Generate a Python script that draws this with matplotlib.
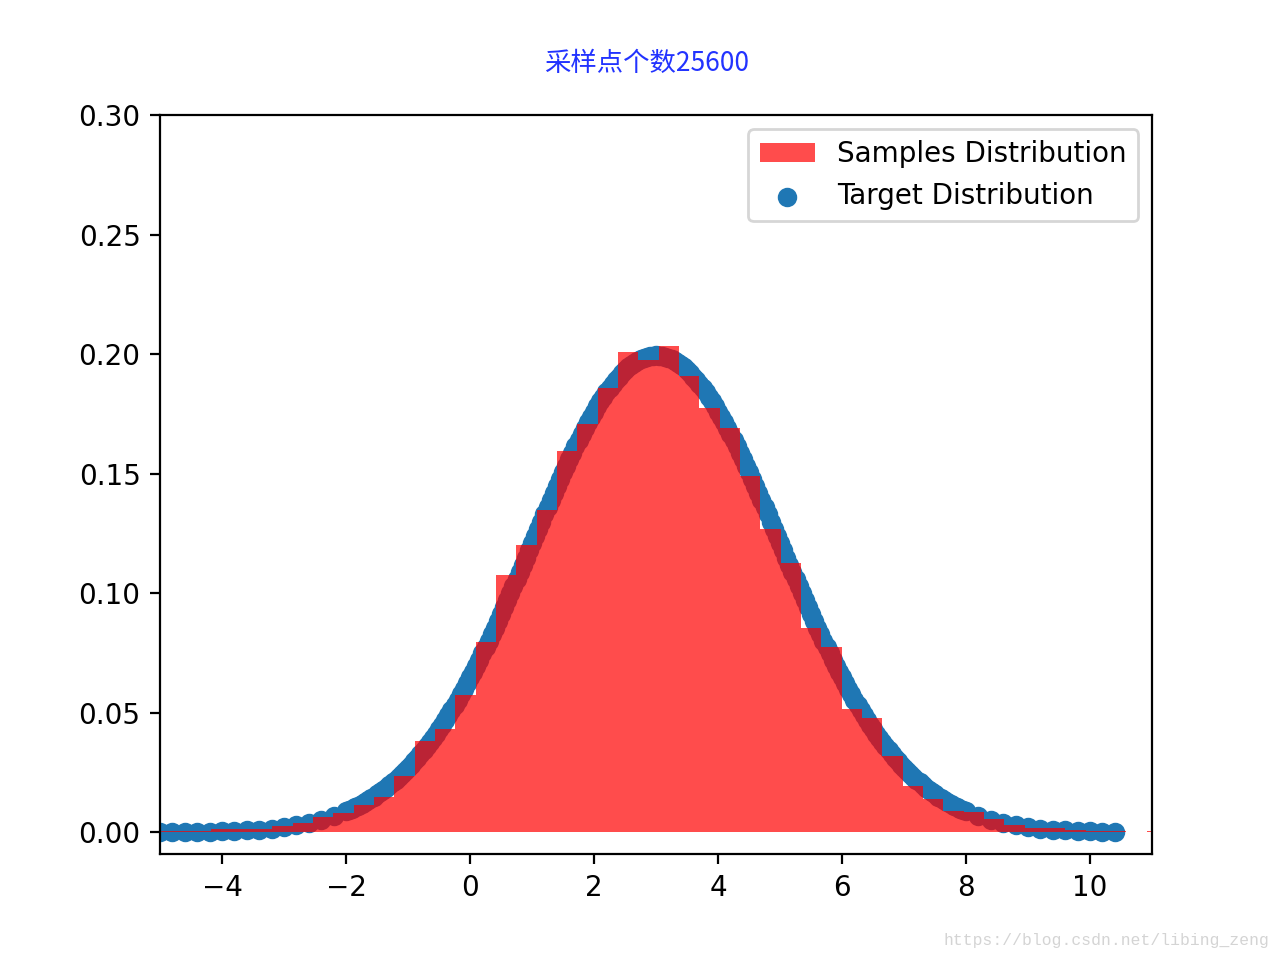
import numpy as np
import matplotlib
matplotlib.use("Agg")
import matplotlib.pyplot as plt

# 采样结果的直方图 (density), 50 bins
hist_left = -5.157
bin_width = 0.328
bin_heights = [
    0.0004, 0.0004, 0.0005, 0.0014, 0.0014, 0.0016, 0.0025, 0.0038, 0.0066, 0.0080,
    0.0113, 0.0148, 0.0235, 0.0381, 0.0433, 0.0575, 0.0796, 0.1077, 0.1202, 0.1349,
    0.1596, 0.1708, 0.1859, 0.2011, 0.1976, 0.2033, 0.1910, 0.1775, 0.1691, 0.1489,
    0.1271, 0.1127, 0.0855, 0.0775, 0.0517, 0.0478, 0.0318, 0.0193, 0.0141, 0.0088,
    0.0084, 0.0056, 0.0032, 0.0018, 0.0018, 0.0008, 0.0006, 0.0006, 0.0, 0.0005,
]

# 目标分布上的点
target_x = [
    -5.0, -4.8, -4.6, -4.4, -4.2, -4.0, -3.8, -3.6, -3.4, -3.2, -3.0, -2.8, -2.6, -2.4, -2.2,
    -2.00, -1.95, -1.90, -1.85, -1.80, -1.75, -1.70, -1.65, -1.60, -1.55,
    -1.50, -1.45, -1.40, -1.35, -1.30, -1.25, -1.20, -1.15, -1.10, -1.05,
    -1.00, -0.95, -0.90, -0.85, -0.80, -0.75, -0.70, -0.65, -0.60, -0.55,
    -0.50, -0.45, -0.40, -0.35, -0.30, -0.25, -0.20, -0.15, -0.10, -0.05,
    0.00, 0.05, 0.10, 0.15, 0.20, 0.25, 0.30, 0.35, 0.40, 0.45,
    0.50, 0.55, 0.60, 0.65, 0.70, 0.75, 0.80, 0.85, 0.90, 0.95,
    1.00, 1.05, 1.10, 1.15, 1.20, 1.25, 1.30, 1.35, 1.40, 1.45,
    1.50, 1.55, 1.60, 1.65, 1.70, 1.75, 1.80, 1.85, 1.90, 1.95,
    2.00, 2.05, 2.10, 2.15, 2.20, 2.25, 2.30, 2.35, 2.40, 2.45,
    2.50, 2.55, 2.60, 2.65, 2.70, 2.75, 2.80, 2.85, 2.90, 2.95,
    3.00, 3.05, 3.10, 3.15, 3.20, 3.25, 3.30, 3.35, 3.40, 3.45,
    3.50, 3.55, 3.60, 3.65, 3.70, 3.75, 3.80, 3.85, 3.90, 3.95,
    4.00, 4.05, 4.10, 4.15, 4.20, 4.25, 4.30, 4.35, 4.40, 4.45,
    4.50, 4.55, 4.60, 4.65, 4.70, 4.75, 4.80, 4.85, 4.90, 4.95,
    5.00, 5.05, 5.10, 5.15, 5.20, 5.25, 5.30, 5.35, 5.40, 5.45,
    5.50, 5.55, 5.60, 5.65, 5.70, 5.75, 5.80, 5.85, 5.90, 5.95,
    6.00, 6.05, 6.10, 6.15, 6.20, 6.25, 6.30, 6.35, 6.40, 6.45,
    6.50, 6.55, 6.60, 6.65, 6.70, 6.75, 6.80, 6.85, 6.90, 6.95,
    7.00, 7.05, 7.10, 7.15, 7.20, 7.25, 7.30, 7.35, 7.40, 7.45,
    7.50, 7.55, 7.60, 7.65, 7.70, 7.75, 7.80, 7.85, 7.90, 7.95,
    8.00,
    8.2, 8.4, 8.6, 8.8, 9.0, 9.2, 9.4, 9.6, 9.8, 10.0, 10.2, 10.4,
]
target_y = [
    0.0001, 0.0001, 0.0002, 0.0002, 0.0003, 0.0004, 0.0006, 0.0009, 0.0012, 0.0016,
    0.0022, 0.0030, 0.0040, 0.0052, 0.0068,
    0.0088, 0.0093, 0.0099, 0.0105, 0.0112, 0.0119, 0.0126, 0.0134, 0.0142, 0.0150,
    0.0159, 0.0168, 0.0177, 0.0187, 0.0198, 0.0209, 0.0220, 0.0232, 0.0244, 0.0257,
    0.0270, 0.0284, 0.0298, 0.0313, 0.0328, 0.0344, 0.0360, 0.0377, 0.0395, 0.0413,
    0.0431, 0.0451, 0.0470, 0.0491, 0.0511, 0.0533, 0.0555, 0.0577, 0.0600, 0.0624,
    0.0648, 0.0672, 0.0697, 0.0723, 0.0749, 0.0775, 0.0802, 0.0829, 0.0857, 0.0885,
    0.0913, 0.0942, 0.0971, 0.1000, 0.1030, 0.1059, 0.1089, 0.1119, 0.1149, 0.1180,
    0.1210, 0.1240, 0.1270, 0.1300, 0.1330, 0.1360, 0.1390, 0.1419, 0.1449, 0.1477,
    0.1506, 0.1534, 0.1561, 0.1588, 0.1615, 0.1641, 0.1666, 0.1691, 0.1715, 0.1738,
    0.1760, 0.1782, 0.1803, 0.1823, 0.1841, 0.1859, 0.1876, 0.1892, 0.1907, 0.1921,
    0.1933, 0.1945, 0.1955, 0.1964, 0.1972, 0.1979, 0.1985, 0.1989, 0.1992, 0.1994,
    0.1995, 0.1994, 0.1992, 0.1989, 0.1985, 0.1979, 0.1972, 0.1964, 0.1955, 0.1945,
    0.1933, 0.1921, 0.1907, 0.1892, 0.1876, 0.1859, 0.1841, 0.1823, 0.1803, 0.1782,
    0.1760, 0.1738, 0.1715, 0.1691, 0.1666, 0.1641, 0.1615, 0.1588, 0.1561, 0.1534,
    0.1506, 0.1477, 0.1449, 0.1419, 0.1390, 0.1360, 0.1330, 0.1300, 0.1270, 0.1240,
    0.1210, 0.1180, 0.1149, 0.1119, 0.1089, 0.1059, 0.1030, 0.1000, 0.0971, 0.0942,
    0.0913, 0.0885, 0.0857, 0.0829, 0.0802, 0.0775, 0.0749, 0.0723, 0.0697, 0.0672,
    0.0648, 0.0624, 0.0600, 0.0577, 0.0555, 0.0533, 0.0511, 0.0491, 0.0470, 0.0451,
    0.0431, 0.0413, 0.0395, 0.0377, 0.0360, 0.0344, 0.0328, 0.0313, 0.0298, 0.0284,
    0.0270, 0.0257, 0.0244, 0.0232, 0.0220, 0.0209, 0.0198, 0.0187, 0.0177, 0.0168,
    0.0159, 0.0150, 0.0142, 0.0134, 0.0126, 0.0119, 0.0112, 0.0105, 0.0099, 0.0093,
    0.0088,
    0.0068, 0.0052, 0.0040, 0.0030, 0.0022, 0.0016, 0.0012, 0.0009, 0.0006, 0.0004,
    0.0003, 0.0002,
]

n_samples = 25600
title_text = "采样点个数" + str(n_samples)
legend_labels = ["Samples Distribution", "Target Distribution"]

fig, ax = plt.subplots(figsize=(6.4, 4.8), dpi=200)

# 先画目标分布, 直方图半透明叠在上面
pts = ax.scatter(target_x, target_y)

edges = hist_left + bin_width * np.arange(len(bin_heights) + 1)
centers = edges[:-1] + bin_width / 2
_, _, bars = ax.hist(centers, bins=edges, weights=bin_heights,
                     color="r", alpha=0.7)

ax.set_xlim(-5, 11)
ax.set_ylim(-0.0092, 0.30)
ax.set_yticks([0.0, 0.05, 0.10, 0.15, 0.20, 0.25, 0.30])
ax.legend([bars[0], pts], legend_labels, loc="upper right")

ax.set_title(title_text, fontsize=9.5, color="#2233ff", pad=16, x=0.49,
             family=["Noto Sans CJK SC", "DejaVu Sans"])

fig.text(0.992, 0.012, "https://blog.csdn.net/libing_zeng", ha="right", va="bottom",
         fontsize=5.9, color="#d4d4d4", family=["Liberation Mono", "DejaVu Sans Mono"])

fig.savefig("out.png", dpi=200)
